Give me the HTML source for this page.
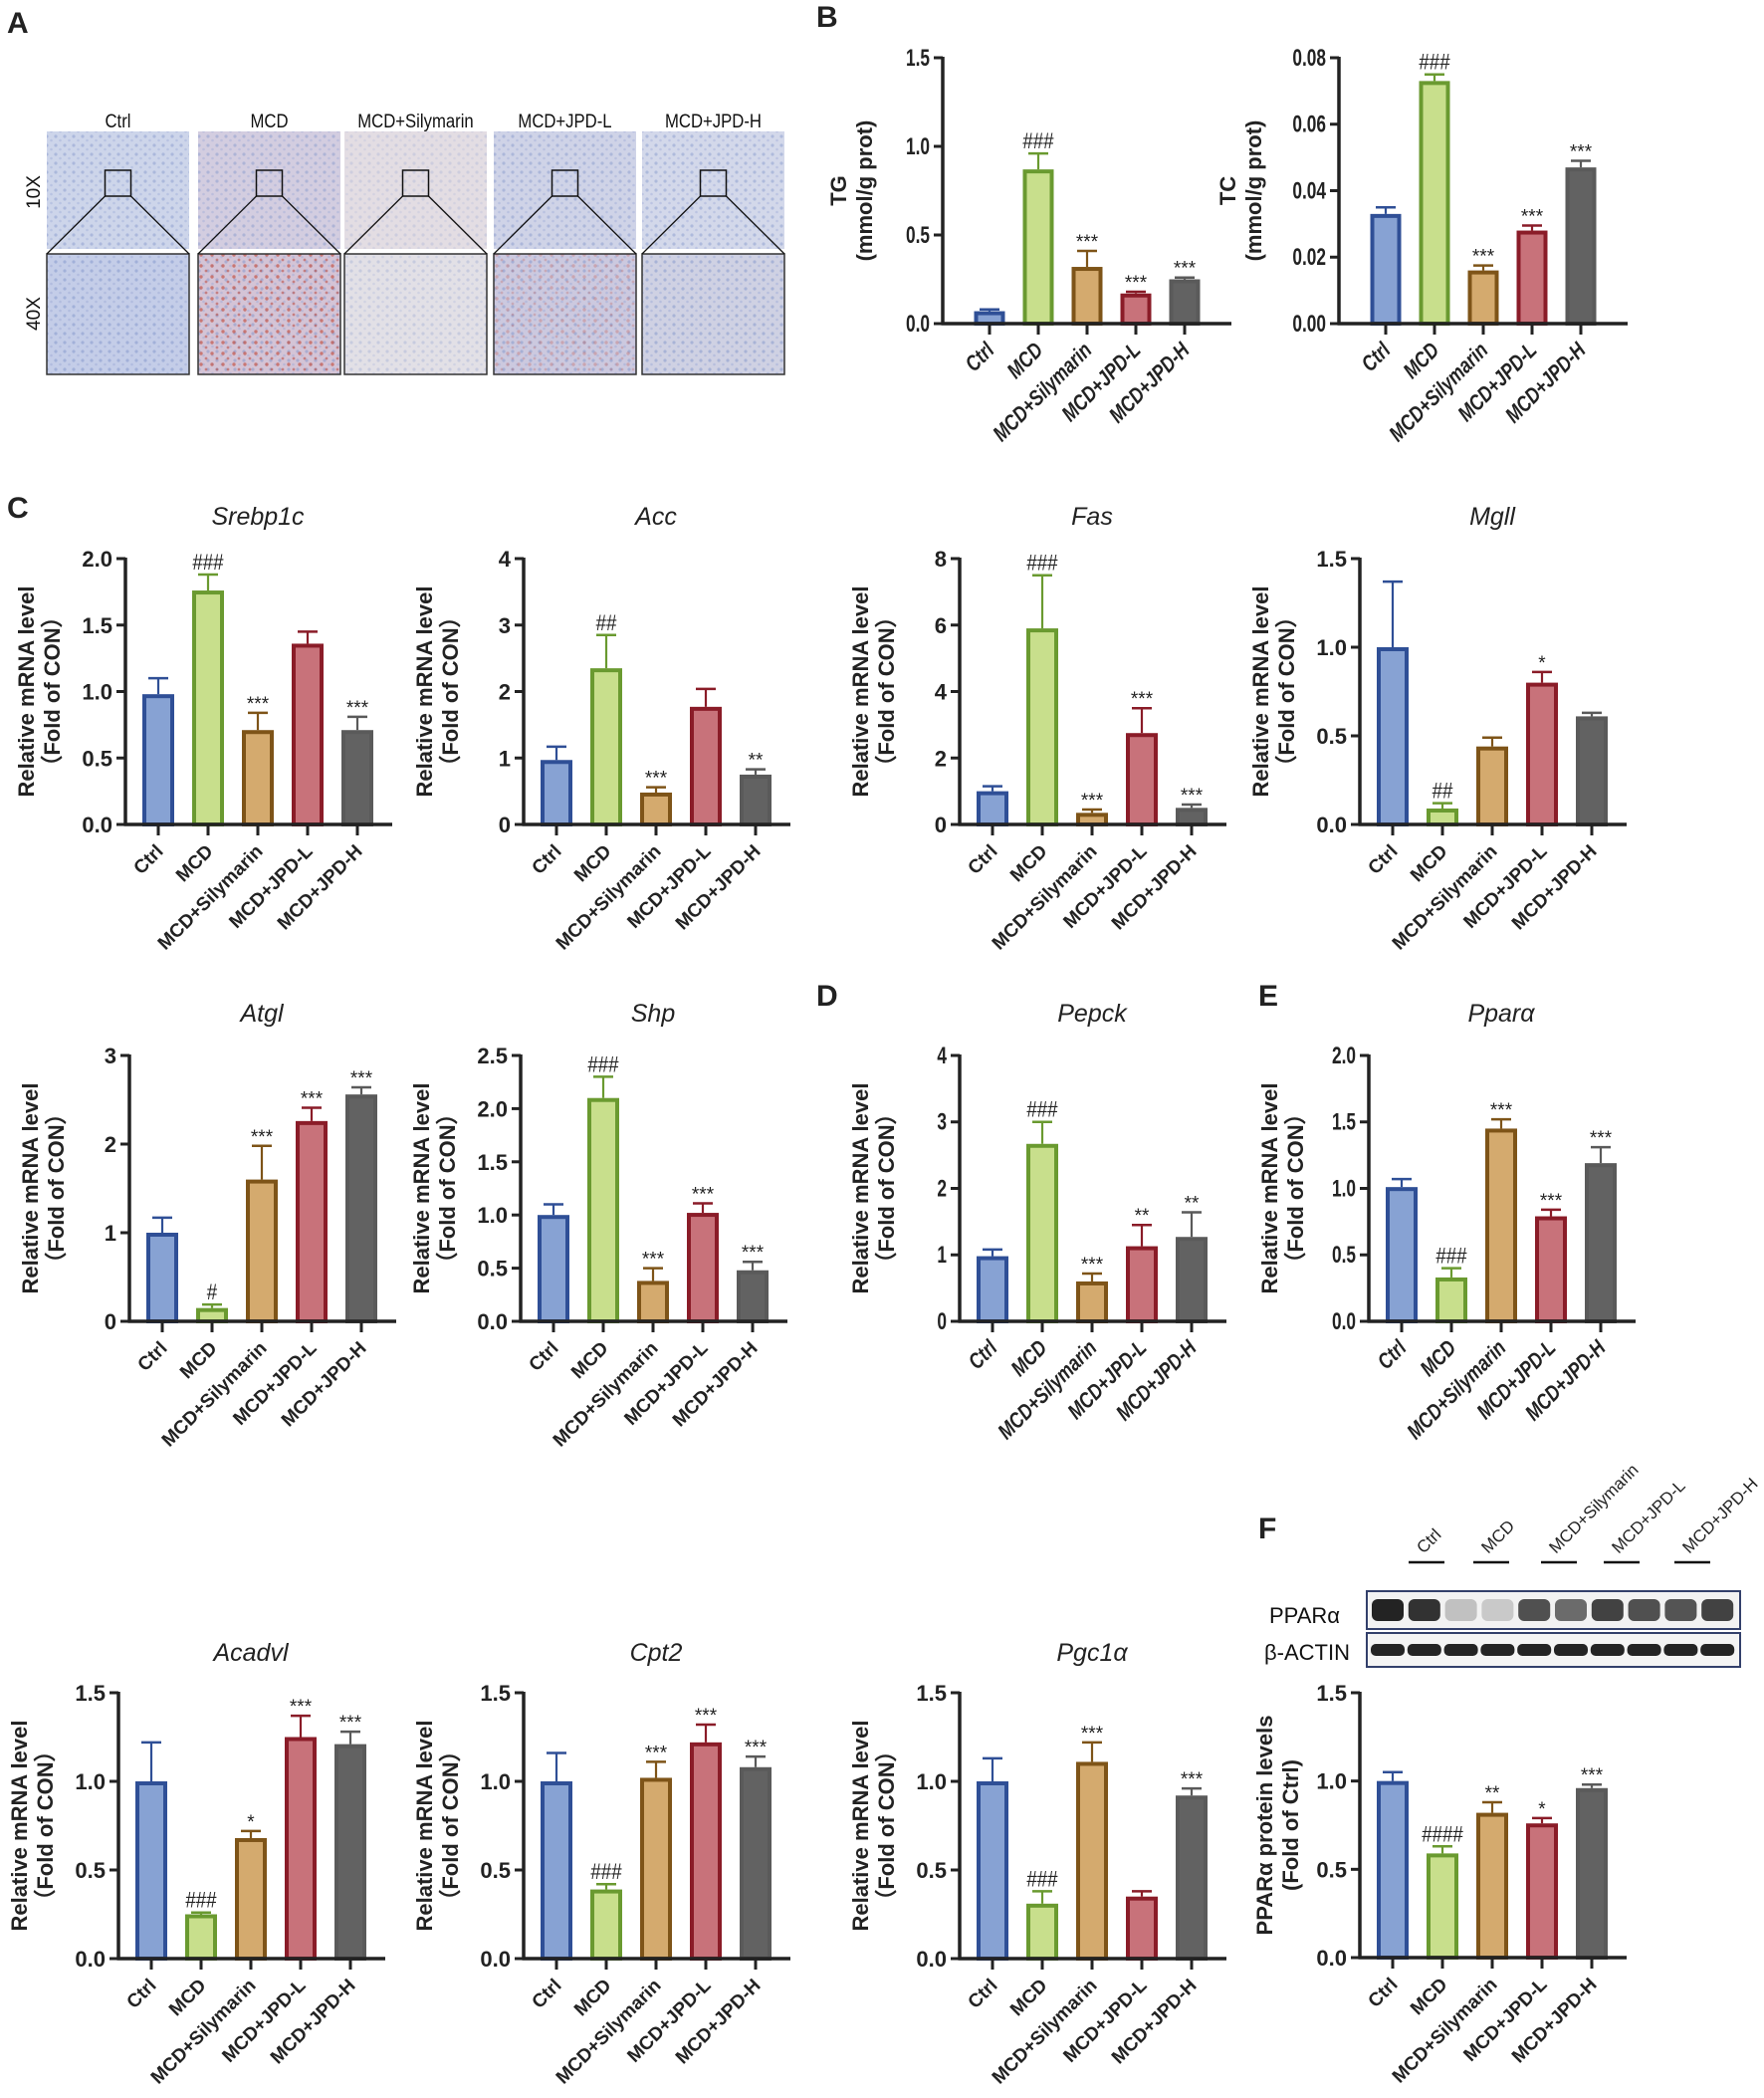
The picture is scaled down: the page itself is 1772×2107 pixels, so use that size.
<!DOCTYPE html>
<html><head><meta charset="utf-8">
<style>
html,body{margin:0;padding:0;background:#fff;}
svg{display:block;font-family:"Liberation Sans",Arial,sans-serif;}
</style></head>
<body>
<svg id="s" width="1772" height="2107" viewBox="0 0 1772 2107" xmlns="http://www.w3.org/2000/svg">
<defs>
<pattern id="dots" width="9" height="9" patternUnits="userSpaceOnUse">
<circle cx="2" cy="2" r="1.6" fill="#7f93c9" opacity="0.55"/>
<circle cx="6.5" cy="6" r="1.3" fill="#9aa8d6" opacity="0.5"/>
</pattern>
<pattern id="rdots" width="11" height="11" patternUnits="userSpaceOnUse">
<circle cx="4" cy="3" r="1.7" fill="#c24a3a" opacity="0.7"/>
<circle cx="9" cy="8" r="1.4" fill="#b8453a" opacity="0.6"/>
</pattern>
</defs>
<g id="g"></g>
</svg>
<script>
const NS="http://www.w3.org/2000/svg";
const g=document.getElementById('g');
function el(t,a,txt){const e=document.createElementNS(NS,t);for(const k in a)e.setAttribute(k,a[k]);if(txt!==undefined)e.textContent=txt;g.appendChild(e);return e;}
const fills=['#87a2d3','#c8df8c','#d4aa6e','#c8727a','#626262'];
const strokes=['#2f4f96','#6a9a30','#7e5418','#8a1c28','#5a5a5a'];
const cats=['Ctrl','MCD','MCD+Silymarin','MCD+JPD-L','MCD+JPD-H'];

function chart(o){
  const X=o.X,Y0=o.Y0,T=o.T,H=Y0-T,max=o.max;
  const sp=o.sp||50,off=o.off||33,bw=o.bw||32,len=o.len||268;
  const yv=v=>Y0-v/max*H;
  const narrow=o.narrow;
  if(o.title) el('text',{x:X+off+2*sp,y:o.ty,'text-anchor':'middle','font-size':25,'font-style':'italic',fill:'#222'},o.title);
  o.v.forEach((v,i)=>{
    const cx=X+off+i*sp, e=o.e[i];
    el('line',{x1:cx,x2:cx,y1:yv(v),y2:yv(v+e),stroke:strokes[i],'stroke-width':2.2});
    el('line',{x1:cx-10,x2:cx+10,y1:yv(v+e),y2:yv(v+e),stroke:strokes[i],'stroke-width':2.5});
    el('rect',{x:cx-bw/2+2,y:yv(v)+2,width:bw-4,height:Y0-yv(v)-2,fill:fills[i],stroke:strokes[i],'stroke-width':4});
    if(o.a[i]){
      const star=o.a[i][0]=='*';
      el('text',{x:cx,y:yv(v+e)-(star?3:5),'text-anchor':'middle','font-size':star?19:22,fill:'#222',
        transform:`translate(${cx} 0) scale(${star?1:0.85} 1) translate(${-cx} 0)`},o.a[i]);
    }
  });
  el('line',{x1:X,x2:X,y1:T-1,y2:Y0+1.5,stroke:'#222','stroke-width':3.5});
  el('line',{x1:X-1.5,x2:X+len,y1:Y0,y2:Y0,stroke:'#222','stroke-width':3.5});
  const n=Math.round(max/o.step);
  for(let k=0;k<=n;k++){
    const v=k*o.step,y=yv(v);
    el('line',{x1:X-9,x2:X,y1:y,y2:y,stroke:'#222','stroke-width':3});
    const lab=v.toFixed(o.dec);
    const tx=X-13;
    el('text',{x:tx,y:y+8,'text-anchor':'end','font-size':narrow?24:22,'font-weight':'bold',fill:'#222',
      transform:narrow?`translate(${tx} 0) scale(0.72 1) translate(${-tx} 0)`:''},lab);
  }
  for(let i=0;i<5;i++){
    const cx=X+off+i*sp;
    el('line',{x1:cx,x2:cx,y1:Y0,y2:Y0+11,stroke:'#222','stroke-width':3});
    el('text',{x:cx+6,y:Y0+28,'text-anchor':'end','font-size':narrow?22:19,'font-weight':'bold','font-style':o.ital?'italic':'normal',fill:'#222',
      transform:`rotate(-45 ${cx+6} ${Y0+28})`+(narrow?` translate(${cx+6} 0) scale(0.8 1) translate(${-(cx+6)} 0)`:'')},cats[i]);
  }
  const my=(T+Y0)/2;
  const l1=o.yl1||'Relative mRNA level', l2=o.yl2||'（Fold of CON）';
  const ya=o.yoff||0;
  el('text',{x:X-92+ya,y:my,'text-anchor':'middle','font-size':22,'font-weight':'bold',fill:'#222',transform:`rotate(-90 ${X-92+ya} ${my})`},l1);
  el('text',{x:X-66+ya,y:my,'text-anchor':'middle','font-size':22,'font-weight':'bold',fill:'#222',transform:`rotate(-90 ${X-66+ya} ${my})`},l2);
}

[['A',7,33],['B',820,27],['C',7,520],['D',820,1010],['E',1264,1010],['F',1264,1545]].forEach(p=>{
  el('text',{x:p[1],y:p[2],'font-size':30,'font-weight':'bold',fill:'#222'},p[0]);
});

// Panel A
const colx=[47,199,346,496,645], cw=143;
const names=['Ctrl','MCD','MCD+Silymarin','MCD+JPD-L','MCD+JPD-H'];
const topc=['#cdd5ea','#d3cde0','#e3dde3','#cfd3e7','#d3d8ea'];
const botc=['#c4cde8','#d4c4d6','#e2e0e6','#ccc9df','#cfd1e3'];
colx.forEach((x,i)=>{
  el('text',{x:x+cw/2,y:128,'text-anchor':'middle','font-size':19,fill:'#111',transform:`translate(${x+cw/2} 0) scale(0.88 1) translate(${-(x+cw/2)} 0)`},names[i]);
  el('rect',{x:x,y:132,width:cw,height:118,fill:topc[i]});
  el('rect',{x:x,y:132,width:cw,height:118,fill:'url(#dots)',opacity:i==2?0.4:0.8});
  el('rect',{x:x,y:255,width:cw,height:121,fill:botc[i]});
  el('rect',{x:x,y:255,width:cw,height:121,fill:'url(#dots)',opacity:i==2?0.5:0.9});
  if(i==1||i==3) el('rect',{x:x,y:255,width:cw,height:121,fill:'url(#rdots)',opacity:i==1?0.9:0.4});
  el('rect',{x:x,y:255,width:cw,height:121,fill:'none',stroke:'#333','stroke-width':1.5});
  const bx=x+cw/2-13;
  el('rect',{x:bx,y:171,width:26,height:26,fill:'none',stroke:'#111','stroke-width':1.5});
  el('line',{x1:bx,y1:197,x2:x,y2:255,stroke:'#111','stroke-width':1.3});
  el('line',{x1:bx+26,y1:197,x2:x+cw,y2:255,stroke:'#111','stroke-width':1.3});
});
el('text',{x:40,y:193,'text-anchor':'middle','font-size':19,fill:'#111',transform:'rotate(-90 40 193)'},'10X');
el('text',{x:40,y:315,'text-anchor':'middle','font-size':19,fill:'#111',transform:'rotate(-90 40 315)'},'40X');

// Panel B
chart({X:947,Y0:325,T:58,max:1.5,step:0.5,dec:1,sp:49,off:47,bw:31,len:290,narrow:true,ital:true,
  v:[.07,.87,.32,.17,.25],e:[.01,.09,.09,.01,.01],a:['','###','***','***','***'],
  yl1:'TG',yl2:'(mmol/g prot)',yoff:-5});
chart({X:1345,Y0:325,T:58,max:0.08,step:0.02,dec:2,sp:49,off:47,bw:31,len:290,narrow:true,ital:true,
  v:[.033,.073,.016,.028,.047],e:[.002,.002,.0015,.0015,.002],a:['','###','***','***','***'],
  yl1:'TC',yl2:'(mmol/g prot)',yoff:-12});

const r1={Y0:828,T:561,ty:527};
chart({...r1,X:126,max:2,step:.5,dec:1,title:'Srebp1c',v:[.98,1.76,.71,1.36,.71],e:[.12,.12,.13,.09,.1],a:['','###','***','','***']});
chart({...r1,X:526,max:4,step:1,dec:0,title:'Acc',v:[.97,2.35,.48,1.77,.75],e:[.2,.5,.08,.27,.08],a:['','##','***','','**']});
chart({...r1,X:964,max:8,step:2,dec:0,title:'Fas',v:[1.0,5.9,.35,2.75,.5],e:[.15,1.6,.1,.75,.1],a:['','###','***','***','***']});
chart({...r1,X:1366,max:1.5,step:.5,dec:1,title:'Mgll',v:[1.0,.09,.44,.8,.61],e:[.37,.03,.05,.06,.02],a:['','##','','*','']});

const r2={Y0:1327,T:1060,ty:1026};
chart({...r2,X:130,max:3,step:1,dec:0,title:'Atgl',v:[1.0,.15,1.6,2.26,2.56],e:[.17,.04,.38,.15,.08],a:['','#','***','***','***']});
chart({...r2,X:523,max:2.5,step:.5,dec:1,title:'Shp',v:[1.0,2.1,.38,1.02,.48],e:[.1,.2,.12,.09,.08],a:['','###','***','***','***']});
chart({...r2,X:964,max:4,step:1,dec:0,title:'Pepck',narrow:true,ital:true,v:[.98,2.67,.6,1.13,1.27],e:[.1,.33,.12,.32,.37],a:['','###','***','**','**']});
chart({...r2,X:1375,max:2,step:.5,dec:1,title:'Pparα',narrow:true,ital:true,v:[1.01,.33,1.45,.79,1.19],e:[.06,.07,.07,.05,.12],a:['','###','***','***','***']});

const r3={Y0:1967,T:1700,ty:1668};
chart({...r3,X:119,max:1.5,step:.5,dec:1,title:'Acadvl',v:[1.0,.25,.68,1.25,1.21],e:[.22,.01,.04,.12,.07],a:['','###','*','***','***']});
chart({...r3,X:526,max:1.5,step:.5,dec:1,title:'Cpt2',v:[1.0,.39,1.02,1.22,1.08],e:[.16,.03,.09,.1,.06],a:['','###','***','***','***']});
chart({...r3,X:964,max:1.5,step:.5,dec:1,title:'Pgc1α',v:[1.0,.31,1.11,.35,.92],e:[.13,.07,.11,.03,.04],a:['','###','***','','***']});
chart({Y0:1966,T:1700,X:1366,max:1.5,step:.5,dec:1,v:[1.0,.59,.82,.76,.96],e:[.05,.04,.06,.03,.02],a:['','####','**','*','***'],
  yl1:'PPARα protein levels',yl2:'(Fold of Ctrl)',yoff:4});

// Western blot
el('rect',{x:1373,y:1598,width:375,height:38,fill:'#f2f2f2',stroke:'#33406b','stroke-width':2});
el('rect',{x:1373,y:1640,width:375,height:34,fill:'#f4f4f4',stroke:'#33406b','stroke-width':2});
const lanes=[];for(let i=0;i<10;i++)lanes.push(1394+i*36.8);
const pint=[0.92,0.85,0.22,0.18,0.72,0.6,0.78,0.72,0.7,0.78];
lanes.forEach((lx,i)=>{
  el('rect',{x:lx-16,y:1606,width:32,height:22,rx:6,fill:'#111',opacity:pint[i]});
  el('rect',{x:lx-17,y:1651,width:34,height:12,rx:5,fill:'#111',opacity:0.92});
});
el('text',{x:1275,y:1630,'font-size':22,fill:'#111'},'PPARα');
el('text',{x:1270,y:1667,'font-size':22,fill:'#111'},'β-ACTIN');
const lg=[['Ctrl',1433],['MCD',1498],['MCD+Silymarin',1566],['MCD+JPD-L',1629],['MCD+JPD-H',1700]];
lg.forEach(p=>{
  el('line',{x1:p[1]-18,x2:p[1]+18,y1:1569,y2:1569,stroke:'#111','stroke-width':2.5});
  el('text',{x:p[1]-3,y:1561,'font-size':17,fill:'#222',transform:`rotate(-45 ${p[1]-3} 1561)`},p[0]);
});
</script>
</body></html>
